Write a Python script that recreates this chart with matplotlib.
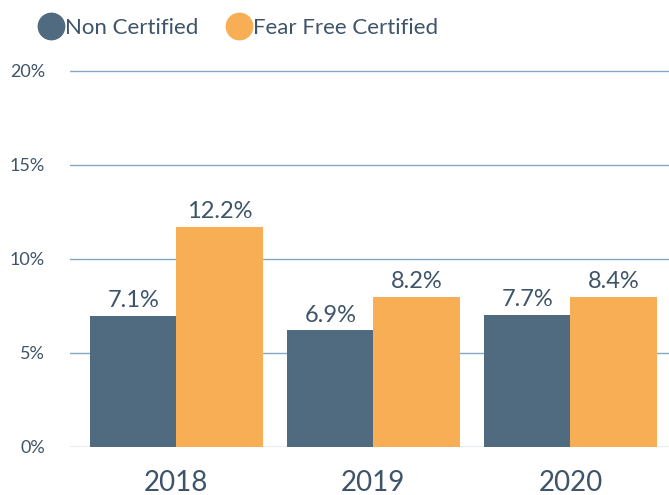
import matplotlib.pyplot as plt
from matplotlib.lines import Line2D
import numpy as np

# Data
years = ['2018', '2019', '2020']
non_certified = [6.95, 6.2, 7.0]        # bar heights as drawn
fear_free = [11.7, 7.98, 7.98]
non_certified_labels = ['7.1%', '6.9%', '7.7%']
fear_free_labels = ['12.2%', '8.2%', '8.4%']
y_ticks = [0, 5, 10, 15, 20]

dark = '#506a80'
orange = '#f7ae55'
text_color = '#3e5468'
grid_color = '#84a8c4'

plt.rcParams['font.family'] = ['Lato', 'DejaVu Sans']

fig = plt.figure(figsize=(6.69, 4.95), dpi=100)
ax = fig.add_axes([0.1046, 0.0976, 0.8954, 0.761])

x = np.arange(len(years))
width = 0.438

bars1 = ax.bar(x - width / 2, non_certified, width, color=dark, zorder=3)
bars2 = ax.bar(x + width / 2, fear_free, width, color=orange, zorder=3)

# Value labels above each bar
for bar, label in zip(bars1, non_certified_labels):
    ax.text(bar.get_x() + bar.get_width() / 2, bar.get_height() + 0.25, label,
            ha='center', va='bottom', fontsize=17, color=text_color)
for bar, label in zip(bars2, fear_free_labels):
    ax.text(bar.get_x() + bar.get_width() / 2, bar.get_height() + 0.25, label,
            ha='center', va='bottom', fontsize=17, color=text_color)

ax.set_xlim(-0.54, 2.5)
ax.set_ylim(0, 20.05)
ax.set_yticks(y_ticks)
ax.set_yticklabels([f'{t}%' for t in y_ticks])
ax.yaxis.grid(True, color=grid_color, linewidth=1, zorder=0)
ax.set_xticks(x)
ax.set_xticklabels(years)

for spine in ax.spines.values():
    spine.set_visible(False)
ax.tick_params(axis='y', length=0, pad=18, labelsize=13, labelcolor=text_color)
ax.tick_params(axis='x', length=0, pad=17, labelsize=20, labelcolor=text_color)

# Legend at the top
handles = [
    Line2D([], [], marker='o', linestyle='', markersize=19, color=dark),
    Line2D([], [], marker='o', linestyle='', markersize=19, color=orange),
]
leg = fig.legend(handles, ['Non Certified', 'Fear Free Certified'],
                 loc='center', bbox_to_anchor=(0.357, 0.944), ncol=2,
                 frameon=False, fontsize=16, handletextpad=0.15,
                 columnspacing=1.3, handlelength=1.0)
for t in leg.get_texts():
    t.set_color(text_color)

plt.savefig('out.png', dpi=100)
